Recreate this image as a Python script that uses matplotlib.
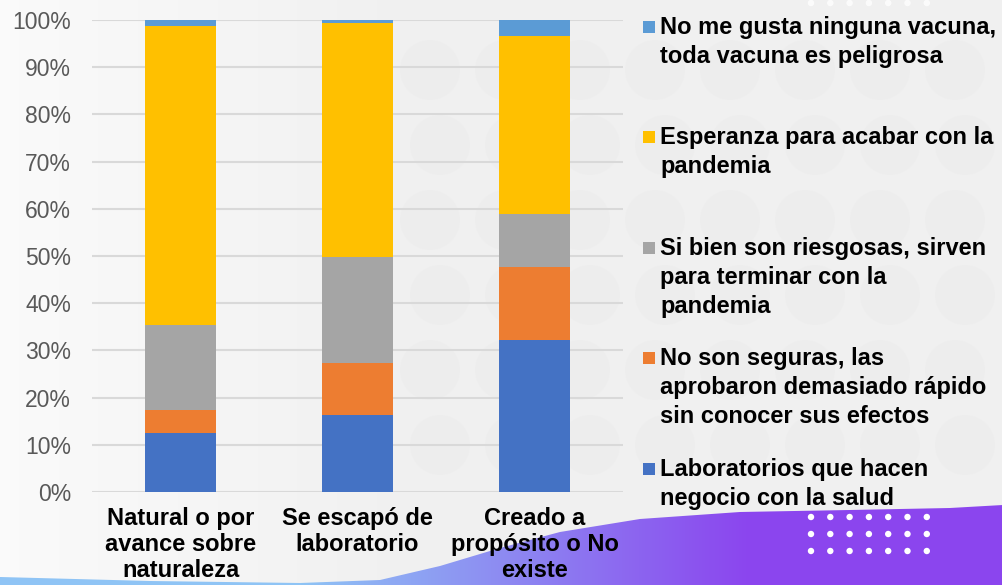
import numpy as np
import matplotlib
matplotlib.use("Agg")
import matplotlib.pyplot as plt
from matplotlib.patches import Polygon, Rectangle, Circle
from matplotlib.ticker import PercentFormatter
from matplotlib.colors import to_rgb

# data (share of answers per group)
categories = ["Natural o por\navance sobre\nnaturaleza",
              "Se escapó de\nlaboratorio",
              "Creado a\npropósito o No\nexiste"]
series_names = ["Laboratorios que hacen\nnegocio con la salud",
                "No son seguras, las\naprobaron demasiado rápido\nsin conocer sus efectos",
                "Si bien son riesgosas, sirven\npara terminar con la\npandemia",
                "Esperanza para acabar con la\npandemia",
                "No me gusta ninguna vacuna,\ntoda vacuna es peligrosa"]
laboratorios = [0.124, 0.163, 0.321]
no_seguras = [0.049, 0.111, 0.156]
riesgosas = [0.180, 0.223, 0.112]
esperanza = [0.634, 0.496, 0.378]
ninguna = [0.013, 0.007, 0.033]
y_ticks = [0.0, 0.1, 0.2, 0.3, 0.4, 0.5, 0.6, 0.7, 0.8, 0.9, 1.0]

series_values = [laboratorios, no_seguras, riesgosas, esperanza, ninguna]
colors = ["#4472C4", "#ED7D31", "#A5A5A5", "#FFC000", "#5B9BD5"]

W, H = 1003, 585
fig = plt.figure(figsize=(W / 100, H / 100), dpi=100, facecolor="#f0f0f0")
plt.rcParams["font.family"] = ["Liberation Sans", "DejaVu Sans"]

# --- decorative background (pixel coords) ---
bg = fig.add_axes([0, 0, 1, 1], zorder=0)
bg.set_xlim(0, W)
bg.set_ylim(H, 0)
bg.axis("off")

# soft white glow on the left
glow = np.ones((10, 200, 4))
glow[..., 3] = np.linspace(0.7, 0.0, 200)[None, :]
bg.imshow(glow, extent=(0, 420, H, 0), aspect="auto", zorder=0)

# faint circle pattern
for row in range(6):
    for col in range(8):
        cx = 430 + col * 75 + (row % 2) * 10
        cy = 70 + row * 75
        bg.add_patch(Circle((cx, cy), 30, color="#e4e4e4", alpha=0.2, lw=0, zorder=1))

# bottom wave with blue -> purple gradient
wave_pts = [(0, 585), (0, 577), (150, 581), (300, 583), (380, 580), (440, 566),
            (500, 548), (560, 532), (640, 519), (740, 512), (850, 510),
            (950, 508), (1003, 505), (1003, 585)]
wave = Polygon(wave_pts, closed=True, transform=bg.transData, facecolor="none", lw=0)
bg.add_patch(wave)
c1, c2 = np.array(to_rgb("#8fc4f5")), np.array(to_rgb("#8b45ee"))
t = np.clip((np.linspace(0, W, 300) - 300) / 450, 0, 1)
grad = c1[None, :] * (1 - t[:, None]) + c2[None, :] * t[:, None]
im = bg.imshow(grad[None, :, :], extent=(0, W, H, 490), aspect="auto", zorder=2)
im.set_clip_path(wave)

# white dots
for j in range(3):
    for i in range(7):
        bg.add_patch(Circle((811 + i * 19.3, 517 + j * 17), 3.2, color="white", lw=0, zorder=3))
for i in range(7):
    bg.add_patch(Circle((811 + i * 19.3, 3), 3.2, color="white", alpha=0.8, lw=0, zorder=3))

# --- chart ---
ax = fig.add_axes([92 / W, 1 - 492 / H, (623 - 92) / W, (492 - 20) / H], zorder=2)
ax.set_facecolor("none")

x = np.arange(len(categories))
bottom = np.zeros(len(categories))
for vals, col in zip(series_values, colors):
    ax.bar(x, vals, width=0.4, bottom=bottom, color=col, zorder=3)
    bottom += np.array(vals)

ax.set_xlim(-0.5, 2.5)
ax.set_ylim(0, 1)
ax.set_yticks(y_ticks)
ax.yaxis.set_major_formatter(PercentFormatter(1.0, decimals=0))
ax.grid(axis="y", color="#d9d9d9", lw=1.5, zorder=0)
ax.set_axisbelow(True)
for s in ax.spines.values():
    s.set_visible(False)
ax.tick_params(axis="y", length=0, pad=15, labelsize=16.5, labelcolor="#595959")
ax.tick_params(axis="x", length=0, pad=11)
ax.set_xticks(x)
ax.set_xticklabels(categories, fontsize=17, fontweight="bold", color="black",
                   linespacing=1.15)

# --- legend, drawn by hand so entries sit at even spacing ---
legend_centers = [27, 137, 248, 358, 469]
for k, c in enumerate(legend_centers):
    idx = len(series_names) - 1 - k
    fig.patches.append(Rectangle((643 / W, 1 - (c + 6) / H), 12 / W, 12 / H,
                                 transform=fig.transFigure, color=colors[idx], lw=0, zorder=4))
    fig.text(660 / W, 1 - (c - 11) / H, series_names[idx], ha="left", va="top",
             fontsize=17, fontweight="bold", color="black", linespacing=1.34, zorder=5)

fig.savefig("out.png", dpi=100, facecolor=fig.get_facecolor())
